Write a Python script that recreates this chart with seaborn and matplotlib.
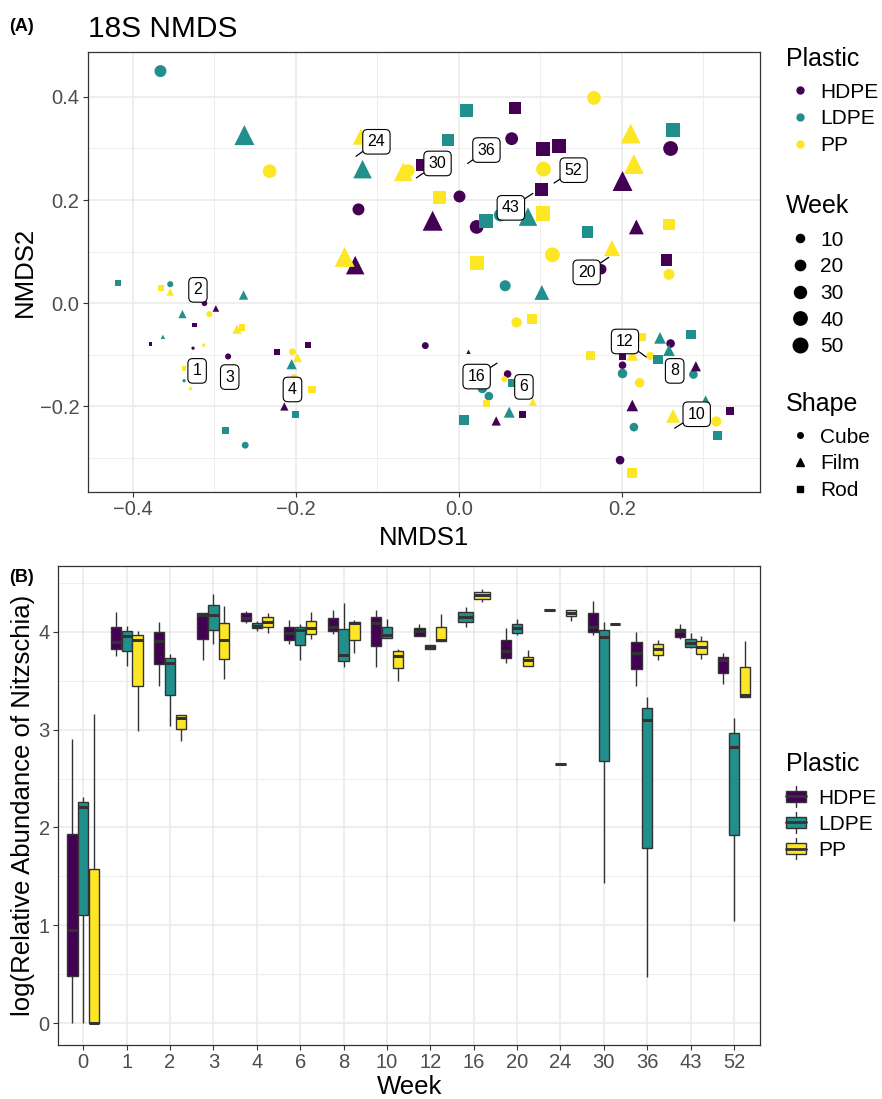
import numpy as np
import pandas as pd
import matplotlib
matplotlib.use('Agg')
import matplotlib.pyplot as plt
from matplotlib.lines import Line2D
from matplotlib.patches import Rectangle
from matplotlib.legend_handler import HandlerBase
from matplotlib.ticker import MultipleLocator
import seaborn as sns

DPI = 100
PLASTICS = ['HDPE', 'LDPE', 'PP']
COLORS = {'HDPE': '#440154', 'LDPE': '#21908C', 'PP': '#FDE725'}
SHAPES = ['Cube', 'Film', 'Rod']
MARKERS = {'Cube': 'o', 'Film': '^', 'Rod': 's'}
SHAPE_SCALE = {'Cube': 1.0, 'Film': 1.35, 'Rod': 0.95}

# ---- panel A: NMDS scores
hdpe_nmds1 = [-0.312, -0.298, -0.324, -0.326, -0.378, -0.283, -0.223, -0.185, -0.214, -0.041,
              0.060, 0.046, 0.078, 0.012, 0.260, 0.291, 0.201, 0.201, 0.213, 0.198,
              0.333, 0.175, 0.255, 0.218, -0.123, -0.127, -0.032, 0.001, -0.045, 0.022,
              0.065, 0.069, 0.103, 0.123, 0.260, 0.201, 0.101]
hdpe_nmds2 = [0.000, -0.010, -0.042, -0.087, -0.079, -0.103, -0.094, -0.081, -0.200, -0.082,
              -0.137, -0.228, -0.215, -0.094, -0.078, -0.122, -0.102, -0.120, -0.198, -0.304,
              -0.208, 0.066, 0.084, 0.148, 0.182, 0.074, 0.160, 0.207, 0.268, 0.148,
              0.319, 0.378, 0.299, 0.305, 0.300, 0.237, 0.220]
hdpe_shape = ['Cube', 'Film', 'Rod', 'Cube', 'Rod', 'Cube', 'Rod', 'Rod', 'Film', 'Cube',
              'Cube', 'Film', 'Rod', 'Film', 'Cube', 'Film', 'Rod', 'Cube', 'Film', 'Cube',
              'Rod', 'Cube', 'Rod', 'Film', 'Cube', 'Film', 'Film', 'Cube', 'Rod', 'Cube',
              'Cube', 'Rod', 'Rod', 'Rod', 'Cube', 'Film', 'Rod']
hdpe_week = [3, 2, 2, 1, 1, 4, 4, 6, 4, 6,
             8, 6, 6, 1, 12, 8, 8, 8, 12, 12,
             12, 20, 30, 24, 30, 43, 52, 30, 30, 43,
             36, 36, 52, 52, 52, 52, 43]

ldpe_nmds1 = [-0.418, -0.354, -0.339, -0.363, -0.337, -0.264, -0.286, -0.262, -0.205, -0.200,
              0.029, 0.037, 0.066, 0.062, 0.006, 0.057, 0.102, 0.247, 0.258, 0.285,
              0.245, 0.201, 0.288, 0.303, 0.318, 0.215, 0.158, 0.051, 0.085, 0.033,
              -0.013, 0.010, -0.118, -0.263, -0.366, 0.263]
ldpe_nmds2 = [0.039, 0.037, -0.021, -0.065, -0.150, 0.016, -0.247, -0.275, -0.118, -0.216,
              -0.165, -0.180, -0.155, -0.211, -0.226, 0.034, 0.021, -0.067, -0.091, -0.060,
              -0.109, -0.136, -0.138, -0.189, -0.257, -0.240, 0.138, 0.171, 0.168, 0.160,
              0.316, 0.373, 0.260, 0.326, 0.450, 0.336]
ldpe_shape = ['Rod', 'Cube', 'Film', 'Film', 'Cube', 'Film', 'Rod', 'Cube', 'Film', 'Rod',
              'Cube', 'Cube', 'Rod', 'Film', 'Rod', 'Cube', 'Film', 'Film', 'Film', 'Rod',
              'Rod', 'Cube', 'Cube', 'Film', 'Rod', 'Cube', 'Rod', 'Cube', 'Film', 'Rod',
              'Rod', 'Rod', 'Film', 'Film', 'Cube', 'Rod']
ldpe_week = [6, 4, 4, 1, 1, 6, 6, 6, 8, 8,
             16, 12, 12, 10, 20, 24, 24, 12, 12, 16,
             20, 16, 12, 10, 16, 12, 30, 36, 43, 52,
             36, 43, 43, 52, 30, 52]

pp_nmds1 = [-0.365, -0.354, -0.306, -0.313, -0.329, -0.337, -0.272, -0.266, -0.204, -0.198,
            -0.202, -0.180, 0.056, 0.091, 0.034, 0.071, 0.090, 0.162, 0.225, 0.213,
            0.235, 0.222, 0.263, 0.316, 0.213, 0.188, 0.258, 0.258, 0.023, 0.115,
            0.103, 0.104, 0.211, 0.215, 0.166, -0.024, -0.068, -0.062, -0.120, -0.232,
            -0.140]
pp_nmds2 = [0.029, 0.022, -0.021, -0.081, -0.164, -0.126, -0.050, -0.047, -0.094, -0.105,
            -0.143, -0.167, -0.147, -0.191, -0.194, -0.037, -0.030, -0.102, -0.066, -0.100,
            -0.102, -0.154, -0.218, -0.229, -0.329, 0.107, 0.153, 0.056, 0.079, 0.094,
            0.174, 0.260, 0.329, 0.270, 0.398, 0.205, 0.255, 0.257, 0.323, 0.256,
            0.090]
pp_shape = ['Rod', 'Film', 'Cube', 'Cube', 'Film', 'Rod', 'Film', 'Rod', 'Cube', 'Film',
            'Cube', 'Rod', 'Cube', 'Film', 'Rod', 'Cube', 'Rod', 'Rod', 'Rod', 'Film',
            'Cube', 'Cube', 'Film', 'Cube', 'Rod', 'Film', 'Rod', 'Cube', 'Rod', 'Cube',
            'Rod', 'Cube', 'Film', 'Film', 'Cube', 'Rod', 'Film', 'Cube', 'Film', 'Cube',
            'Film']
pp_week = [4, 3, 4, 1, 1, 2, 6, 6, 6, 6,
           4, 8, 4, 4, 6, 20, 24, 16, 12, 12,
           10, 16, 20, 20, 20, 30, 30, 24, 52, 52,
           52, 52, 52, 52, 43, 43, 43, 36, 30, 43,
           52]

# week labels: text position and the point the label refers to
label_week = [1, 2, 3, 4, 6, 8, 10, 12, 16, 20, 24, 30, 36, 43, 52]
label_x = [-0.321, -0.320, -0.281, -0.204, 0.080, 0.265, 0.292, 0.204, 0.022, 0.157,
           -0.101, -0.026, 0.034, 0.064, 0.141]
label_y = [-0.131, 0.026, -0.143, -0.167, -0.162, -0.131, -0.215, -0.074, -0.142, 0.060,
           0.313, 0.271, 0.297, 0.185, 0.258]
anchor_x = [-0.321, -0.320, -0.281, -0.204, 0.080, 0.265, 0.265, 0.230, 0.047, 0.184,
            -0.126, -0.052, 0.011, 0.091, 0.117]
anchor_y = [-0.131, 0.026, -0.143, -0.167, -0.162, -0.131, -0.242, -0.104, -0.116, 0.089,
            0.285, 0.243, 0.271, 0.213, 0.233]

# ---- panel B: per box [lower whisker, Q1, median, Q3, upper whisker]
box_weeks = [0, 1, 2, 3, 4, 6, 8, 10, 12, 16, 20, 24, 30, 36, 43, 52]
hdpe_box = [[0.00, 0.48, 0.95, 1.93, 2.90], [3.755, 3.82, 3.89, 4.044, 4.20],
            [3.45, 3.666, 3.90, 4.00, 4.095], [3.71, 3.93, 4.17, 4.19, 4.19],
            [4.085, 4.11, 4.136, 4.19, 4.21], [3.87, 3.92, 3.99, 4.05, 4.12],
            [3.976, 4.007, 4.05, 4.136, 4.225], [3.64, 3.857, 4.085, 4.153, 4.225],
            [3.956, 3.956, 4.01, 4.034, 4.075], None,
            [3.68, 3.73, 3.80, 3.915, 4.034], [4.225, 4.225, 4.225, 4.225, 4.225],
            [3.966, 4.00, 4.05, 4.187, 4.317], [3.45, 3.615, 3.78, 3.89, 3.993],
            [3.93, 3.95, 4.007, 4.027, 4.075], [3.47, 3.574, 3.71, 3.744, 3.785]]
ldpe_box = [[0.00, 1.105, 2.21, 2.26, 2.31], [3.65, 3.80, 3.956, 4.01, 4.06],
            [3.04, 3.356, 3.676, 3.73, 3.77], [3.87, 4.017, 4.17, 4.276, 4.38],
            [4.003, 4.034, 4.06, 4.09, 4.105], [3.71, 3.86, 4.017, 4.05, 4.075],
            [3.64, 3.70, 3.76, 4.03, 4.29], [3.94, 3.94, 3.966, 4.044, 4.126],
            [3.827, 3.827, 3.84, 3.86, 3.86], [4.05, 4.095, 4.153, 4.204, 4.256],
            [3.966, 3.99, 4.034, 4.075, 4.126], [2.65, 2.65, 2.65, 2.65, 2.65],
            [1.43, 2.68, 3.95, 4.02, 4.095], [0.476, 1.786, 3.10, 3.216, 3.33],
            [3.83, 3.84, 3.88, 3.925, 3.983], [1.04, 1.92, 2.818, 2.97, 3.12]]
pp_box = [[0.00, 0.00, 0.00, 1.58, 3.16], [2.99, 3.45, 3.92, 3.966, 4.01],
          [2.886, 3.005, 3.12, 3.145, 3.145], [3.52, 3.717, 3.915, 4.09, 4.266],
          [3.99, 4.044, 4.10, 4.146, 4.195], [3.925, 3.976, 4.034, 4.11, 4.20],
          [3.78, 3.92, 4.085, 4.10, 4.12], [3.50, 3.63, 3.75, 3.80, 3.82],
          [3.905, 3.905, 3.915, 4.05, 4.18], [4.30, 4.33, 4.375, 4.41, 4.44],
          [3.65, 3.65, 3.71, 3.744, 3.81], [4.11, 4.16, 4.195, 4.22, 4.22],
          [4.08, 4.08, 4.08, 4.08, 4.08], [3.71, 3.76, 3.82, 3.87, 3.915],
          [3.72, 3.77, 3.84, 3.90, 3.956], [3.336, 3.336, 3.35, 3.635, 3.90]]


def gg_diameter(week):
    """Pixel diameter of a ggplot2 point with scale_size (range 1-6) over weeks 1-52."""
    size = 1 + 5 * np.sqrt((week - 1) / 51)
    return 2.3 * size + 1.0


def marker_area(week, factor):
    d_pt = gg_diameter(week) * factor * 72 / DPI
    return d_pt ** 2


def fy(px):
    """Pixel row (from the top) to figure fraction."""
    return 1 - px / 1099


class BoxKey(HandlerBase):
    """Legend key that looks like a small boxplot."""

    def create_artists(self, legend, orig_handle, xdescent, ydescent, width, height, fontsize, trans):
        x0, y0 = -xdescent, -ydescent
        cx = x0 + width / 2
        lo = Line2D([cx, cx], [y0 - 0.25 * height, y0 + 0.1 * height], color='#333333', lw=1.0, transform=trans)
        hi = Line2D([cx, cx], [y0 + 0.9 * height, y0 + 1.25 * height], color='#333333', lw=1.0, transform=trans)
        box = Rectangle((x0, y0 + 0.1 * height), width, 0.8 * height, facecolor=orig_handle.get_facecolor(),
                        edgecolor='#333333', lw=1.0, transform=trans)
        med = Line2D([x0, x0 + width], [y0 + 0.5 * height] * 2, color='#333333', lw=2.0, transform=trans)
        return [lo, hi, box, med]


def style_axes(ax):
    for spine in ax.spines.values():
        spine.set_visible(True)
        spine.set_color('#333333')
        spine.set_linewidth(0.9)
    ax.set_axisbelow(True)
    ax.grid(True, which='major', color='#EBEBEB', linewidth=1.2)
    ax.grid(True, which='minor', color='#EBEBEB', linewidth=0.6)
    ax.tick_params(which='major', length=3.6, width=0.8, color='#333333', labelcolor='#4D4D4D',
                   labelsize=14.5, pad=2.5, bottom=True, left=True)
    ax.tick_params(which='minor', length=0)


def legend_block(fig, handles, labels, title, title_base, first_row, **kw):
    """ggplot-like legend: title drawn as text, entries as a title-less legend."""
    fig.text(786 / 882, fy(title_base), title, fontsize=18, va='baseline', ha='left')
    opts = dict(loc='upper left', frameon=False, fontsize=15, borderpad=0, borderaxespad=0,
                handlelength=1.35, handletextpad=0.3, labelspacing=0.37)
    opts.update(kw)
    fig.legend(handles, labels, bbox_to_anchor=(786 / 882, fy(first_row - 7.5)), **opts)


def main():
    sns.set_theme(style='white')
    plt.rcParams['font.family'] = ['Liberation Sans', 'DejaVu Sans']
    plt.rcParams['text.color'] = 'black'
    plt.rcParams['axes.labelcolor'] = 'black'

    frames = []
    for plastic, xs, ys, shapes, weeks in [('HDPE', hdpe_nmds1, hdpe_nmds2, hdpe_shape, hdpe_week),
                                           ('LDPE', ldpe_nmds1, ldpe_nmds2, ldpe_shape, ldpe_week),
                                           ('PP', pp_nmds1, pp_nmds2, pp_shape, pp_week)]:
        frames.append(pd.DataFrame({'NMDS1': xs, 'NMDS2': ys, 'Shape': shapes, 'Week': weeks, 'Plastic': plastic}))
    nmds = pd.concat(frames, ignore_index=True)

    rows = []
    for plastic, stats in [('HDPE', hdpe_box), ('LDPE', ldpe_box), ('PP', pp_box)]:
        for pos, vals in enumerate(stats):
            if vals is None:
                continue
            for v in vals:
                rows.append({'pos': pos, 'Plastic': plastic, 'value': v})
    boxes = pd.DataFrame(rows)

    fig = plt.figure(figsize=(8.82, 10.99), dpi=DPI)
    ax_a = fig.add_axes([88 / 882, fy(492), 672 / 882, 440 / 1099])
    ax_b = fig.add_axes([58.3 / 882, fy(1045), 701.7 / 882, 479 / 1099])

    # ---- (A) NMDS
    for shape in SHAPES:
        sub = nmds[nmds['Shape'] == shape]
        sizes = {w: marker_area(w, SHAPE_SCALE[shape]) for w in sorted(sub['Week'].unique())}
        sns.scatterplot(data=sub, x='NMDS1', y='NMDS2', hue='Plastic', hue_order=PLASTICS, palette=COLORS,
                        size='Week', sizes=sizes, marker=MARKERS[shape], linewidth=0, legend=False,
                        ax=ax_a, zorder=3)

    for w, lx, ly, axx, ayy in zip(label_week, label_x, label_y, anchor_x, anchor_y):
        bbox = dict(boxstyle='round,pad=0.3,rounding_size=0.3', facecolor='white', edgecolor='black', lw=0.8)
        if (lx, ly) == (axx, ayy):
            ax_a.text(lx, ly, str(w), ha='center', va='center', fontsize=11.5, bbox=bbox, zorder=5)
        else:
            ax_a.annotate(str(w), xy=(axx, ayy), xytext=(lx, ly), ha='center', va='center', fontsize=11.5,
                          bbox=bbox, zorder=5,
                          arrowprops=dict(arrowstyle='-', color='black', lw=0.9, shrinkA=0, shrinkB=0))

    ax_a.set_xlim(-0.4549, 0.3697)
    ax_a.set_ylim(-0.3657, 0.487)
    ax_a.set_xticks([-0.4, -0.2, 0.0, 0.2])
    ax_a.set_xticklabels(['\u22120.4', '\u22120.2', '0.0', '0.2'])
    ax_a.set_yticks([-0.2, 0.0, 0.2, 0.4])
    ax_a.set_yticklabels(['\u22120.2', '0.0', '0.2', '0.4'])
    ax_a.xaxis.set_minor_locator(MultipleLocator(0.1))
    ax_a.yaxis.set_minor_locator(MultipleLocator(0.1))
    style_axes(ax_a)
    ax_a.set_xlabel('NMDS1', fontsize=18.5, labelpad=5)
    ax_a.set_ylabel('NMDS2', fontsize=18.5, labelpad=2)

    fig.text(88 / 882, fy(37), '18S NMDS', fontsize=21.5, va='baseline', ha='left')
    fig.text(9 / 882, fy(31), '(A)', fontsize=13, fontweight='bold', va='baseline', ha='left')

    plastic_handles = [Line2D([], [], ls='', marker='o', ms=5, color=COLORS[p]) for p in PLASTICS]
    legend_block(fig, plastic_handles, PLASTICS, 'Plastic', 66, 90)
    week_levels = [10, 20, 30, 40, 50]
    week_handles = [Line2D([], [], ls='', marker='o', ms=gg_diameter(w) * 72 / DPI, color='black')
                    for w in week_levels]
    legend_block(fig, week_handles, [str(w) for w in week_levels], 'Week', 213, 238)
    shape_handles = [Line2D([], [], ls='', marker=MARKERS[s], ms=4 * SHAPE_SCALE[s], color='black') for s in SHAPES]
    legend_block(fig, shape_handles, SHAPES, 'Shape', 411, 435)

    # ---- (B) Nitzschia boxplots, one call per week so missing plastics close up like ggplot's dodge
    for pos in range(len(box_weeks)):
        sub = boxes[boxes['pos'] == pos]
        present = [p for p in PLASTICS if p in set(sub['Plastic'])]
        sns.boxplot(data=sub, x='pos', y='value', hue='Plastic', hue_order=present, palette=COLORS,
                    saturation=1, native_scale=True, width=0.75, gap=0.05, whis=(0, 100),
                    linecolor='#333333', linewidth=1.0, showcaps=False, showfliers=False,
                    medianprops={'linewidth': 2.2}, legend=False, ax=ax_b)

    ax_b.set_xlim(-0.576, 15.6)
    ax_b.set_ylim(-0.222, 4.671)
    ax_b.set_xticks(range(len(box_weeks)))
    ax_b.set_xticklabels([str(w) for w in box_weeks])
    ax_b.set_yticks([0, 1, 2, 3, 4])
    ax_b.yaxis.set_minor_locator(MultipleLocator(0.5))
    style_axes(ax_b)
    ax_b.set_xlabel('Week', fontsize=18.5, labelpad=2)
    ax_b.set_ylabel('log(Relative Abundance of Nitzschia)', fontsize=18.5, labelpad=2.5)
    fig.text(9 / 882, fy(582), '(B)', fontsize=13, fontweight='bold', va='baseline', ha='left')

    box_handles = [Rectangle((0, 0), 1, 1, facecolor=COLORS[p]) for p in PLASTICS]
    legend_block(fig, box_handles, PLASTICS, 'Plastic', 771, 796, handlelength=0.95, handleheight=0.65,
                 handletextpad=0.6, labelspacing=0.35, handler_map={Rectangle: BoxKey()})

    fig.savefig('out.png', dpi=DPI)


if __name__ == '__main__':
    main()
